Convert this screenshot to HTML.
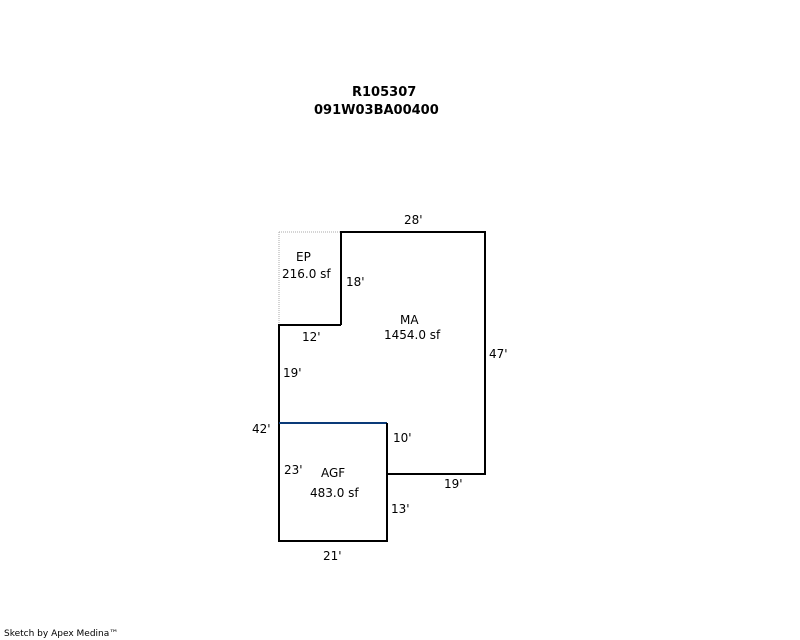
<!DOCTYPE html>
<html><head><meta charset="utf-8"><style>
html,body{margin:0;padding:0;background:#fff;}
svg{display:block;}
text{font-family:"DejaVu Sans","Liberation Sans",sans-serif;font-size:12px;fill:#000;}
.b{font-weight:bold;font-size:13px;}
</style></head><body>
<svg width="800" height="640" viewBox="0 0 800 640" xmlns="http://www.w3.org/2000/svg">
<text class="b" x="352" y="96">R105307</text>
<text class="b" x="314" y="114">091W03BA00400</text>
<path d="M279 232 H341 M279 232 V325" stroke="#aaa" stroke-width="1" stroke-dasharray="1,1" fill="none"/>
<path d="M341 325 V232 H485 V474 H387 V541 H279 V325 H341" stroke="#000" stroke-width="2" fill="none"/>
<line x1="279" y1="423" x2="387" y2="423" stroke="#0a3a78" stroke-width="2"/>
<line x1="387" y1="423" x2="387" y2="474" stroke="#000" stroke-width="2"/>
<text x="404" y="224">28'</text>
<text x="296" y="261">EP</text>
<text x="282" y="278">216.0 sf</text>
<text x="346" y="286">18'</text>
<text x="400" y="324">MA</text>
<text x="384" y="339">1454.0 sf</text>
<text x="302" y="341">12'</text>
<text x="489" y="358">47'</text>
<text x="283" y="377">19'</text>
<text x="252" y="433">42'</text>
<text x="393" y="442">10'</text>
<text x="284" y="474">23'</text>
<text x="321" y="477">AGF</text>
<text x="310" y="497">483.0 sf</text>
<text x="444" y="488">19'</text>
<text x="391" y="513">13'</text>
<text x="323" y="560">21'</text>
<text x="4" y="636" style="font-size:9px;font-family:'DejaVu Sans',sans-serif">Sketch by Apex Medina™</text>
</svg>
</body></html>
